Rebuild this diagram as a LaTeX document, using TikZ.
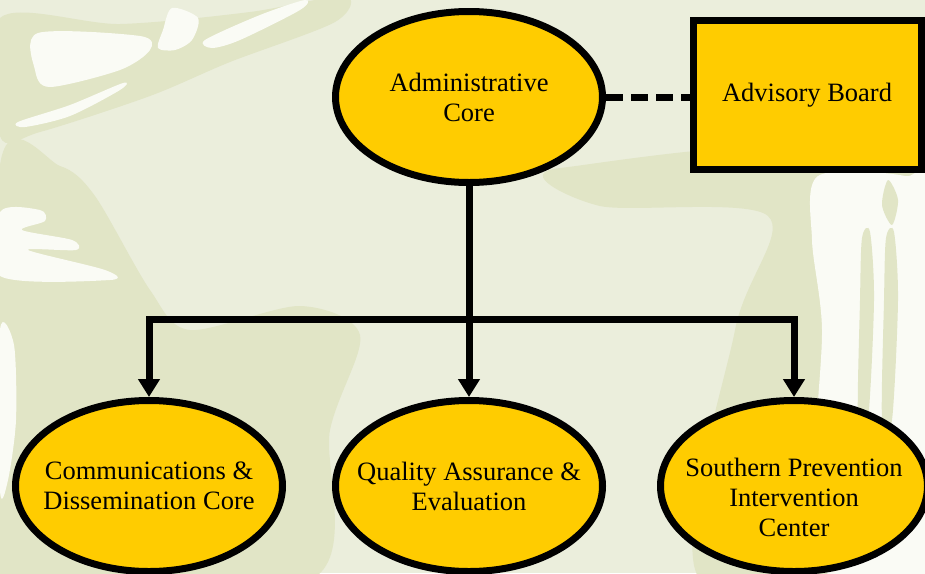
\documentclass[tikz,border=0pt]{standalone}
\usepackage{fontspec}
\setmainfont{Liberation Serif}
\usetikzlibrary{arrows.meta,shapes.geometric}
\definecolor{bgpaper}{HTML}{EBEEDC}
\definecolor{bgmoss}{HTML}{E1E5C6}
\definecolor{bgchalk}{HTML}{FAFBF5}
\definecolor{gold}{HTML}{FFCC00}
\begin{document}
\begin{tikzpicture}[x=1pt, y=-1pt,
                    core/.style = {shape=ellipse, draw, fill=gold,
                    line width=7pt, minimum width=267pt,
                    minimum height=171pt, inner xsep=-20pt,
                    inner ysep=0pt, align=center,
                    font=\fontsize{26.5}{30}\selectfont},
                    board/.style = {shape=rectangle, draw, fill=gold,
                    line width=7pt, minimum width=228pt,
                    minimum height=149pt, inner sep=0pt,
                    font=\fontsize{26.5}{30}\selectfont},
                    link/.style = {draw, line width=7pt,
                    -{Triangle[width=21pt,length=18pt]}}]
  % background
  \fill[bgpaper] (0,0) rectangle (925,573);
  \useasboundingbox (0,0) rectangle (925,573);
  \fill[bgmoss] plot[smooth cycle] coordinates {(0,18) (120,24) (250,12)
    (345,-4) (335,22) (230,62) (150,96) (40,132) (0,136)};
  \fill[bgmoss] plot[smooth cycle] coordinates {(0,165) (60,166) (95,196)
    (150,290) (190,330) (300,306) (360,335) (330,430) (310,580) (0,580)};
  \fill[bgmoss] plot[smooth cycle] coordinates {(560,168) (930,172)
    (930,580) (700,580) (735,330) (768,216) (600,206)};
  \fill[bgchalk] plot[smooth cycle] coordinates {(38,33) (140,36) (150,50)
    (120,70) (50,87) (35,70)};
  \fill[bgchalk] plot[smooth cycle] coordinates {(172,8) (198,18) (192,40)
    (175,50) (158,48) (163,30)};
  \fill[bgchalk] plot[smooth cycle] coordinates {(205,40) (260,15) (305,0)
    (300,10) (240,40) (212,48)};
  \fill[bgchalk] plot[smooth cycle] coordinates {(18,122) (70,105) (123,83)
    (120,90) (70,116) (25,127)};
  \fill[bgchalk] plot[smooth cycle] coordinates {(0,212) (40,210) (45,221)
    (22,230) (72,240) (76,250) (28,250) (105,270) (110,280) (0,276)};
  \fill[bgchalk] plot[smooth cycle] coordinates {(0,330) (14,345) (16,420)
    (8,480) (0,490)};
  \fill[bgchalk] plot[smooth cycle] coordinates {(818,176) (905,176)
    (928,200) (928,580) (832,580) (815,470) (822,330) (812,240)};
  \fill[bgmoss] plot[smooth cycle] coordinates {(862,238) (870,232)
    (874,300) (868,420) (858,420) (860,300)};
  \fill[bgmoss] plot[smooth cycle] coordinates {(886,238) (894,232)
    (898,300) (892,420) (882,420) (884,300)};
  \fill[bgmoss] plot[smooth cycle] coordinates {(888,180) (898,200)
    (892,225) (882,205)};

  % nodes
  \node[core] (admin) at (469,97) {Administrative\\Core};
  \node[board] (advisory) at (807,95) {Advisory Board};
  \node[core] (comm) at (149,486) {Communications \&\\Dissemination Core};
  \node[core] (quality) at (469,486) {Quality Assurance \&\\Evaluation};
  \node[core] (spic) at (794,486)
    {\mbox{}\\[12pt]Southern Prevention\\Intervention\\Center};
  \coordinate (bar) at (469,319);

  % connectors
  \draw[line width=7pt, dash pattern=on 17pt off 8pt]
    (admin.east) -- (admin.east -| advisory.west);
  \draw[link] (admin.south) -- (quality.north);
  \draw[link] (bar) -| (comm.north);
  \draw[link] (bar) -| (spic.north);
\end{tikzpicture}
\end{document}
